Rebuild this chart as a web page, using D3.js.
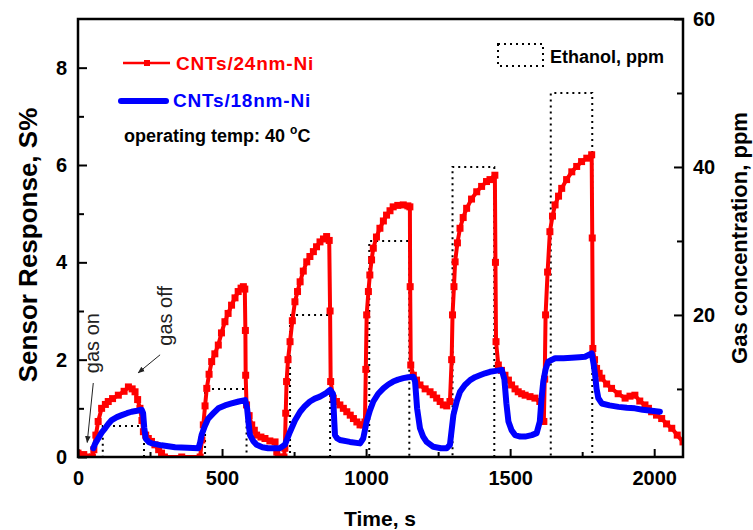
<!DOCTYPE html>
<html>
<head>
<meta charset="utf-8">
<script src="https://cdn.jsdelivr.net/npm/d3@7"></script>
<style>
body { margin: 0; background: #fff; }
svg { display: block; font-family: "Liberation Sans", Arial, sans-serif; }
</style>
</head>
<body>
<div id="chart"></div>
<script>
/* ===== DATA ===== */
const redTime = [0, 20, 35, 50, 55, 62, 70, 82, 95, 105, 120, 140, 160, 175, 188, 198, 207, 215, 222, 227, 235, 244, 255, 267, 280, 290, 300, 360, 424,
  430, 435, 441, 447, 455, 464, 475, 487, 498, 510, 521, 533, 545, 556, 566, 574, 579, 581, 582, 585, 594, 603, 612, 620, 635, 649, 666, 684, 690, 695, 715,
  718, 721, 724, 729, 736, 744, 753, 762, 771, 782, 794, 805, 817, 828, 840, 852, 863, 872, 875, 877, 886, 897, 909, 921, 933, 945, 956, 968, 979, 990, 996,
  999, 1002, 1008, 1013, 1019, 1025, 1036, 1048, 1060, 1071, 1083, 1094, 1110, 1129, 1145, 1152, 1153, 1155, 1164, 1175, 1187, 1205, 1222, 1233, 1245, 1257, 1268, 1280, 1291,
  1297, 1300, 1305, 1309, 1317, 1326, 1337, 1349, 1366, 1384, 1401, 1418, 1430, 1447, 1449, 1451, 1459, 1470, 1482, 1494, 1505, 1517, 1528, 1540, 1552, 1569, 1586, 1603, 1612, 1617,
  1620, 1623, 1630, 1638, 1647, 1656, 1668, 1679, 1696, 1714, 1731, 1748, 1766, 1783, 1785, 1787, 1793, 1800, 1809, 1818, 1835, 1852, 1875, 1899, 1916, 1933, 1950, 1968, 1980, 1991, 2008, 2026, 2043, 2061, 2080, 2100];
const redResp = [0.08, 0.05, 0, 0, 0.15, 0.45, 0.73, 1.0, 1.08, 1.14, 1.2, 1.27, 1.35, 1.44, 1.4, 1.34, 1.18, 1.0, 0.75, 0.52, 0.45, 0.38, 0.32, 0.25, 0.15, 0.08, 0, 0, 0,
  0.35, 0.66, 1.05, 1.41, 1.7, 1.96, 2.12, 2.3, 2.55, 2.78, 2.95, 3.12, 3.27, 3.4, 3.47, 3.5, 3.45, 2.6, 1.68, 1.07, 0.85, 0.66, 0.55, 0.45, 0.41, 0.38, 0.33, 0.31, 0.1, 0, 0,
  0.18, 0.9, 1.55, 2.0, 2.37, 2.8, 3.19, 3.4, 3.6, 3.82, 4.01, 4.12, 4.22, 4.32, 4.42, 4.48, 4.53, 4.45, 3.0, 1.55, 1.21, 1.14, 1.07, 1.0, 0.93, 0.86, 0.79, 0.72, 0.66, 0.66, 0.72,
  1.8, 2.92, 3.4, 3.74, 4.05, 4.29, 4.52, 4.7, 4.85, 4.97, 5.06, 5.14, 5.17, 5.18, 5.16, 5.14, 3.5, 1.89, 1.68, 1.58, 1.48, 1.4, 1.34, 1.28, 1.21, 1.14, 1.07, 1.05, 1.14,
  2.0, 2.92, 3.5, 4.01, 4.4, 4.7, 4.92, 5.11, 5.3, 5.45, 5.56, 5.66, 5.7, 5.79, 4.0, 2.37, 1.89, 1.78, 1.68, 1.58, 1.48, 1.4, 1.34, 1.3, 1.27, 1.24, 1.21, 1.14, 0.95, 0.73,
  1.6, 2.92, 3.8, 4.63, 4.95, 5.18, 5.36, 5.52, 5.7, 5.86, 5.97, 6.07, 6.14, 6.21, 4.5, 2.23, 2.0, 1.82, 1.72, 1.62, 1.5, 1.41, 1.3, 1.21, 1.25, 1.27, 1.15, 1.07, 1.0, 0.93, 0.86, 0.79, 0.68, 0.59, 0.45, 0.31];

const blueTime = [53, 60, 70, 82, 94, 105, 117, 135, 152, 170, 186, 205, 221, 226, 230, 235, 245, 256, 290, 337, 380, 418,
  424, 429, 440, 452, 470, 487, 510, 533, 558, 580, 587, 592, 597, 608, 620, 640, 660, 700,
  718, 736, 753, 771, 788, 805, 822, 840, 858, 875, 885, 889, 892, 900, 909, 944, 979, 990,
  1002, 1013, 1025, 1042, 1060, 1077, 1094, 1111, 1129, 1146, 1164, 1170, 1177, 1187, 1198, 1210, 1233, 1260, 1280, 1291,
  1303, 1315, 1326, 1343, 1361, 1378, 1395, 1413, 1430, 1450, 1471, 1480, 1487, 1494, 1505, 1517, 1535, 1552, 1575, 1592,
  1603, 1609, 1615, 1623, 1632, 1656, 1685, 1714, 1740, 1760, 1783, 1790, 1795, 1800, 1806, 1818, 1845, 1876, 1905, 1933, 1960, 1991, 2020];
const blueResp = [0.18, 0.28, 0.38, 0.5, 0.59, 0.68, 0.76, 0.82, 0.86, 0.9, 0.93, 0.95, 0.97, 0.9, 0.6, 0.38, 0.31, 0.28, 0.24, 0.2, 0.19, 0.18,
  0.3, 0.45, 0.63, 0.79, 0.9, 1.0, 1.06, 1.1, 1.14, 1.17, 1.0, 0.7, 0.45, 0.33, 0.25, 0.2, 0.18, 0.18,
  0.25, 0.52, 0.75, 0.93, 1.05, 1.14, 1.2, 1.24, 1.3, 1.38, 1.3, 0.8, 0.45, 0.38, 0.35, 0.31, 0.28, 0.38,
  0.73, 0.95, 1.14, 1.3, 1.41, 1.49, 1.55, 1.59, 1.62, 1.64, 1.65, 1.55, 1.0, 0.59, 0.42, 0.31, 0.21, 0.18, 0.18, 0.25,
  0.86, 1.15, 1.34, 1.48, 1.58, 1.64, 1.68, 1.72, 1.75, 1.77, 1.79, 1.6, 1.1, 0.73, 0.55, 0.45, 0.42, 0.42, 0.45, 0.49,
  0.73, 1.2, 1.55, 1.8, 1.96, 2.03, 2.03, 2.04, 2.05, 2.06, 2.13, 1.9, 1.68, 1.4, 1.21, 1.1, 1.06, 1.03, 1.01, 1.0, 0.97, 0.95, 0.93];

const gasOn = [86, 441, 736, 1011, 1300, 1641];
const gasOff = [229, 585, 875, 1150, 1445, 1785];
const gasPpm = [5, 10, 20, 30, 40, 50];

const xTicks = [0, 500, 1000, 1500, 2000];
const xMinor = [250, 750, 1250, 1750];
const yTicks = [0, 2, 4, 6, 8];
const yMinor = [1, 3, 5, 7];
const y2Ticks = [20, 40, 60];
const y2Minor = [10, 30, 50];

/* ===== LAYOUT ===== */
const width = 753;
const height = 530;
const plot = { left: 78, right: 683, top: 19, bottom: 457 };
const font = "\"Liberation Sans\", Arial, sans-serif";

const svg = d3.select("#chart")
  .append("svg")
  .attr("width", width)
  .attr("height", height);

const x = d3.scaleLinear().domain([0, 2100]).range([plot.left, plot.right]);
const y = d3.scaleLinear().domain([0, 9]).range([plot.bottom, plot.top]);
const y2 = d3.scaleLinear().domain([0.8, 60]).range([plot.bottom, plot.top]);

svg.append("clipPath").attr("id", "clip")
  .append("rect")
  .attr("x", plot.left).attr("y", plot.top)
  .attr("width", plot.right - plot.left).attr("height", plot.bottom - plot.top);

/* ===== GAS STEPS (dotted) ===== */
const gasPts = [[0, 0]];
gasOn.forEach((t, i) => {
  gasPts.push([t, 0], [t, gasPpm[i]], [gasOff[i], gasPpm[i]], [gasOff[i], 0]);
});
gasPts.push([2100, 0]);

const plotG = svg.append("g").attr("clip-path", "url(#clip)");

plotG.append("path")
  .datum(gasPts)
  .attr("fill", "none")
  .attr("stroke", "#000")
  .attr("stroke-width", 2)
  .attr("stroke-dasharray", "2,4")
  .attr("d", d3.line().x(d => x(d[0])).y(d => y2(d[1])));

/* ===== RED SERIES ===== */
const redData = redTime.map((t, i) => [t, redResp[i]]);
const blueData = blueTime.map((t, i) => [t, blueResp[i]]);
const line = d3.line().x(d => x(d[0])).y(d => y(d[1]));

plotG.append("path")
  .datum(redData)
  .attr("fill", "none")
  .attr("stroke", "#ff0000")
  .attr("stroke-width", 4)
  .attr("stroke-linejoin", "round")
  .attr("d", line);

plotG.append("g")
  .selectAll("rect")
  .data(redData)
  .enter()
  .append("rect")
  .attr("x", d => x(d[0]) - 3.5)
  .attr("y", d => y(d[1]) - 3.5)
  .attr("width", 7)
  .attr("height", 7)
  .attr("fill", "#ff0000");

/* ===== BLUE SERIES ===== */
plotG.append("path")
  .datum(blueData)
  .attr("fill", "none")
  .attr("stroke", "#0000ff")
  .attr("stroke-width", 6)
  .attr("stroke-linejoin", "round")
  .attr("stroke-linecap", "round")
  .attr("d", line);

/* ===== AXES ===== */
function styleAxis(g) {
  g.select(".domain").remove();
  g.selectAll("line").attr("stroke", "#000").attr("stroke-width", 2);
  g.selectAll("text")
    .attr("font-family", font)
    .attr("font-size", 20)
    .attr("font-weight", "bold")
    .attr("fill", "#000");
}

svg.append("g")
  .attr("transform", `translate(0,${plot.bottom})`)
  .call(d3.axisBottom(x).tickValues(xTicks).tickSize(-8).tickPadding(14).tickFormat(d3.format("d")))
  .call(styleAxis);
svg.append("g")
  .attr("transform", `translate(0,${plot.bottom})`)
  .call(d3.axisBottom(x).tickValues(xMinor).tickSize(-5).tickFormat(""))
  .call(styleAxis);

svg.append("g")
  .attr("transform", `translate(${plot.left},0)`)
  .call(d3.axisLeft(y).tickValues(yTicks).tickSize(-9).tickPadding(11).tickFormat(d3.format("d")))
  .call(styleAxis);
svg.append("g")
  .attr("transform", `translate(${plot.left},0)`)
  .call(d3.axisLeft(y).tickValues(yMinor).tickSize(-6).tickFormat(""))
  .call(styleAxis);

svg.append("g")
  .attr("transform", `translate(${plot.right},0)`)
  .call(d3.axisRight(y2).tickValues(y2Ticks).tickSize(-9).tickPadding(10).tickFormat(d3.format("d")))
  .call(styleAxis);
svg.append("g")
  .attr("transform", `translate(${plot.right},0)`)
  .call(d3.axisRight(y2).tickValues(y2Minor).tickSize(-6).tickFormat(""))
  .call(styleAxis);

/* frame */
svg.append("rect")
  .attr("x", plot.left).attr("y", plot.top)
  .attr("width", plot.right - plot.left).attr("height", plot.bottom - plot.top)
  .attr("fill", "none")
  .attr("stroke", "#000")
  .attr("stroke-width", 2.5);

/* ===== AXIS TITLES ===== */
svg.append("text")
  .attr("transform", "translate(37,245) rotate(-90)")
  .attr("text-anchor", "middle")
  .attr("font-family", font).attr("font-size", 26).attr("font-weight", "bold")
  .text("Sensor Response, S%");

svg.append("text")
  .attr("transform", "translate(747,238) rotate(-90)")
  .attr("text-anchor", "middle")
  .attr("font-family", font).attr("font-size", 22).attr("font-weight", "bold")
  .text("Gas concentration, ppm");

svg.append("text")
  .attr("x", 380).attr("y", 526)
  .attr("text-anchor", "middle")
  .attr("font-family", font).attr("font-size", 21).attr("font-weight", "bold")
  .text("Time, s");

/* ===== LEGEND ===== */
const legend = svg.append("g").attr("font-family", font).attr("font-weight", "bold");

legend.append("line")
  .attr("x1", 123).attr("x2", 170).attr("y1", 63).attr("y2", 63)
  .attr("stroke", "#ff0000").attr("stroke-width", 2.5);
legend.append("rect")
  .attr("x", 144).attr("y", 60).attr("width", 6).attr("height", 6)
  .attr("fill", "#ff0000");
legend.append("text")
  .attr("x", 176).attr("y", 70).attr("font-size", 19).attr("fill", "#ff0000")
  .attr("letter-spacing", 0.8)
  .text("CNTs/24nm-Ni");

legend.append("line")
  .attr("x1", 121).attr("x2", 166).attr("y1", 101).attr("y2", 101)
  .attr("stroke", "#0000ff").attr("stroke-width", 6).attr("stroke-linecap", "round");
legend.append("text")
  .attr("x", 173).attr("y", 107).attr("font-size", 19).attr("fill", "#0000ff")
  .attr("letter-spacing", 0.8)
  .text("CNTs/18nm-Ni");

const tempText = legend.append("text")
  .attr("x", 124).attr("y", 142).attr("font-size", 18).attr("fill", "#000");
tempText.append("tspan").text("operating temp: 40 ");
tempText.append("tspan").attr("font-size", 12).attr("dy", -8).text("o");
tempText.append("tspan").attr("dy", 8).text("C");

legend.append("rect")
  .attr("x", 498).attr("y", 44).attr("width", 45).attr("height", 22)
  .attr("fill", "none").attr("stroke", "#000").attr("stroke-width", 2)
  .attr("stroke-dasharray", "2,4");
legend.append("text")
  .attr("x", 550).attr("y", 63).attr("font-size", 18).attr("fill", "#000")
  .text("Ethanol, ppm");

/* ===== ANNOTATIONS ===== */
svg.append("defs").append("marker")
  .attr("id", "arrow")
  .attr("viewBox", "0 0 10 10")
  .attr("refX", 9).attr("refY", 5)
  .attr("markerWidth", 7).attr("markerHeight", 7)
  .attr("orient", "auto")
  .append("path")
  .attr("d", "M0,1 L10,5 L0,9 Z")
  .attr("fill", "#222");

const notes = [
  { label: "gas on", tx: 73, tv: 2.34, from: [53, 1.52], to: [32, 0.3] },
  { label: "gas off", tx: 325, tv: 2.9, from: [285, 2.1], to: [209, 1.73] }
];

notes.forEach(n => {
  svg.append("line")
    .attr("x1", x(n.from[0])).attr("y1", y(n.from[1]))
    .attr("x2", x(n.to[0])).attr("y2", y(n.to[1]))
    .attr("stroke", "#222").attr("stroke-width", 1)
    .attr("marker-end", "url(#arrow)");
  svg.append("text")
    .attr("transform", `translate(${x(n.tx)},${y(n.tv)}) rotate(-90)`)
    .attr("text-anchor", "middle")
    .attr("font-family", font).attr("font-size", 20)
    .attr("fill", "#222")
    .text(n.label);
});
</script>
</body>
</html>
